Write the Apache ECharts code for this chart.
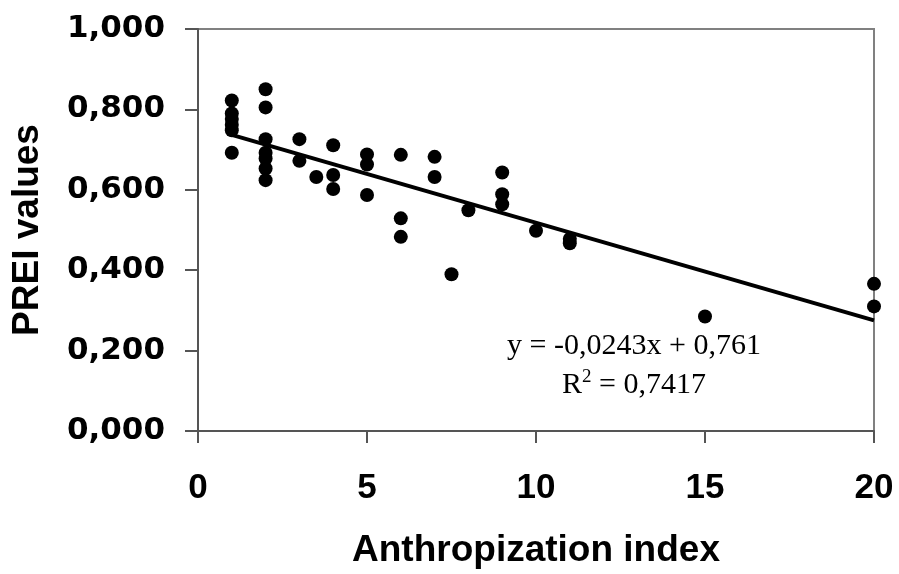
<!DOCTYPE html>
<html>
<head>
<meta charset="utf-8">
<script src="https://cdn.jsdelivr.net/npm/echarts@6/dist/echarts.min.js"></script>
<style>html,body{margin:0;padding:0;background:#fff;}#c{width:899px;height:574px;}</style>
</head>
<body>
<div id="c"></div>
<script>
// Data
const anthropX = [1,1,1,1,1,1, 2,2,2,2,2,2,2, 3,3, 3.5, 4,4,4, 5,5,5, 6,6,6, 7,7, 7.5, 8, 9,9,9, 10, 11,11, 15, 20,20];
const preiY = [0.822,0.790,0.776,0.762,0.748,0.692,
               0.850,0.805,0.726,0.692,0.678,0.653,0.624,
               0.726,0.672, 0.632, 0.711,0.637,0.602,
               0.688,0.663,0.587, 0.687,0.529,0.483,
               0.682,0.632, 0.390, 0.549, 0.643,0.589,0.564,
               0.498, 0.478,0.467, 0.285, 0.366,0.310];
const trendSlope = -0.0243;
const trendIntercept = 0.761;
const trendRange = [1, 20];
const xTicks = [0, 5, 10, 15, 20];
const yTicks = ['0,000','0,200','0,400','0,600','0,800','1,000'];
const eqText = 'y = -0,0243x + 0,761';
const r2Text = '0,7417';

const points = anthropX.map((x, i) => [x, preiY[i]]);
const trend = trendRange.map(x => [x, trendSlope * x + trendIntercept]);

const chart = echarts.init(document.getElementById('c'));
chart.setOption({
  animation: false,
  backgroundColor: '#fff',
  grid: { left: 198, right: 25, top: 29, bottom: 141, show: true, borderColor: '#808080', borderWidth: 2, backgroundColor: 'transparent' },
  xAxis: {
    type: 'value', min: 0, max: 20, interval: 5,
    name: 'Anthropization index', nameLocation: 'middle', nameGap: 101,
    nameTextStyle: { fontFamily: 'Liberation Sans', fontWeight: 'bold', fontSize: 37, color: '#000' },
    axisLine: { show: true, lineStyle: { color: '#555', width: 2 } },
    axisTick: { show: true, length: 12, inside: false, lineStyle: { color: '#555', width: 2 } },
    axisLabel: { margin: 40, fontFamily: 'Liberation Sans', fontWeight: 'bold', fontSize: 35, color: '#000',
                 formatter: v => xTicks.includes(v) ? String(v) : '' },
    splitLine: { show: false }
  },
  yAxis: {
    type: 'value', min: 0, max: 1, interval: 0.2,
    name: 'PREI values', nameLocation: 'middle', nameGap: 152,
    nameTextStyle: { fontFamily: 'Liberation Sans', fontWeight: 'bold', fontSize: 37, color: '#000' },
    axisLine: { show: true, lineStyle: { color: '#555', width: 2 } },
    axisTick: { show: true, length: 13, inside: false, lineStyle: { color: '#555', width: 2 } },
    axisLabel: { margin: 33, fontFamily: 'DejaVu Sans', fontWeight: 'bold', fontSize: 31, color: '#000',
                 formatter: v => yTicks[Math.round(v / 0.2)] },
    splitLine: { show: false }
  },
  series: [
    { type: 'line', data: trend, symbol: 'none', lineStyle: { color: '#000', width: 4 }, z: 2 },
    { type: 'scatter', data: points, symbol: 'circle', symbolSize: 14, itemStyle: { color: '#000', opacity: 1 }, z: 3 }
  ],
  graphic: [
    { type: 'text', style: { text: eqText, font: '30px "Liberation Serif"', fill: '#000', textAlign: 'center', textVerticalAlign: 'middle', x: 634, y: 346 } },
    { type: 'text', style: { text: '{r|R}{s|2}{r| = ' + r2Text + '}', x: 634, y: 384, textAlign: 'center', textVerticalAlign: 'middle',
        rich: { r: { font: '30px "Liberation Serif"', fill: '#000', verticalAlign: 'bottom' }, s: { font: '19px "Liberation Serif"', fill: '#000', verticalAlign: 'top', padding: [0,0,14,0] } } } }
  ]
});
</script>
</body>
</html>
